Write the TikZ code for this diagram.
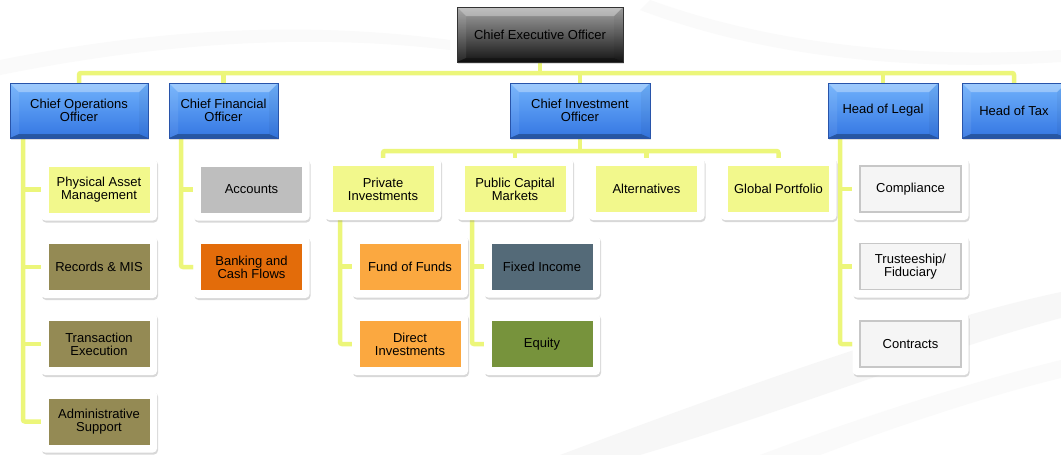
\documentclass[tikz,border=0pt]{standalone}
\usepackage{fontspec}
\setmainfont{Liberation Sans}
\usetikzlibrary{shadows,calc}
\pgfdeclarelayer{bg}
\pgfdeclarelayer{back}
\pgfsetlayers{bg,back,main}

\definecolor{link}{RGB}{236,246,122}
\definecolor{paleyel}{RGB}{242,248,140}
\definecolor{khaki}{RGB}{148,138,84}
\definecolor{acgray}{RGB}{190,190,190}
\definecolor{burnt}{RGB}{227,108,10}
\definecolor{apricot}{RGB}{251,168,64}
\definecolor{slate}{RGB}{84,106,120}
\definecolor{olivegreen}{RGB}{119,147,60}
\definecolor{bluetop}{RGB}{112,178,252}
\definecolor{bluebot}{RGB}{52,118,226}
\definecolor{blueedge}{RGB}{40,84,170}

% translucent bevel faces drawn over a shaded box
\newcommand\bevelfaces{%
  \fill[white,opacity=.32] (path picture bounding box.north west) -- (path picture bounding box.north east)
     -- ([shift={(-9pt,-9pt)}]path picture bounding box.north east) -- ([shift={(9pt,-9pt)}]path picture bounding box.north west) -- cycle;
  \fill[white,opacity=.08] (path picture bounding box.north west) -- ([shift={(9pt,-9pt)}]path picture bounding box.north west)
     -- ([shift={(9pt,4pt)}]path picture bounding box.south west) -- (path picture bounding box.south west) -- cycle;
  \fill[black,opacity=.04] (path picture bounding box.north east) -- ([shift={(-9pt,-9pt)}]path picture bounding box.north east)
     -- ([shift={(-9pt,4pt)}]path picture bounding box.south east) -- (path picture bounding box.south east) -- cycle;
  \fill[black,opacity=.28] (path picture bounding box.south west) -- (path picture bounding box.south east)
     -- ([shift={(-9pt,4pt)}]path picture bounding box.south east) -- ([shift={(9pt,4pt)}]path picture bounding box.south west) -- cycle;
}

\tikzset{
  base/.style={font=\fontsize{13}{13}\selectfont, align=center, inner sep=0pt, text=black},
  bluebox/.style={base, minimum height=55pt, top color=bluetop, bottom color=bluebot,
    draw=blueedge, line width=.4pt, path picture={\bevelfaces},
    drop shadow={shadow xshift=1pt, shadow yshift=-1.5pt, opacity=.25}},
  ceobox/.style={base, minimum height=55pt, top color=black!36, bottom color=black!92,
    draw=black!80, line width=.4pt, path picture={\bevelfaces},
    drop shadow={shadow xshift=1pt, shadow yshift=-1.5pt, opacity=.25}},
  frame/.style={fill=white, rounded corners=4pt, minimum width=116pt, minimum height=62pt,
    drop shadow={shadow xshift=1pt, shadow yshift=-2pt, opacity=.3}},
  face/.style={base, minimum width=101pt, minimum height=46pt, fill=#1},
  legalface/.style={base, minimum width=101pt, minimum height=46pt, fill=black!4,
    draw=black!22, line width=1.6pt},
  link/.style={draw=link, line width=4.5pt, rounded corners=2pt},
}

\begin{document}
\begin{tikzpicture}[x=1pt,y=-1pt]
\clip (0,0) rectangle (1061,455);

\begin{pgfonlayer}{bg}
  \fill[white] (0,0) rectangle (1061,455);
  % faint streaks in the background
  \fill[black!3] (560,455) .. controls (760,380) and (930,320) .. (1061,292)
     -- (1061,318) .. controls (940,350) and (790,410) .. (640,455) -- cycle;
  \fill[black!2] (760,455) .. controls (880,410) and (980,380) .. (1061,360)
     -- (1061,378) .. controls (990,395) and (900,425) .. (820,455) -- cycle;
  \fill[black!2] (0,60) .. controls (150,30) and (300,20) .. (450,40)
     -- (450,50) .. controls (300,32) and (150,45) .. (0,75) -- cycle;
  \fill[black!2] (650,0) .. controls (760,40) and (900,60) .. (1061,50)
     -- (1061,62) .. controls (900,72) and (760,55) .. (640,10) -- cycle;
\end{pgfonlayer}

% top level
\node[ceobox, minimum width=166pt] (ceo) at (540,34.5) {Chief Executive Officer};

\node[bluebox, minimum width=138pt] (coo)   at (79,110.5)   {Chief Operations\\Officer};
\node[bluebox, minimum width=109pt] (cfo)   at (223.5,110.5) {Chief Financial\\Officer};
\node[bluebox, minimum width=140pt] (cio)   at (580,110.5)  {Chief Investment\\Officer};
\node[bluebox, minimum width=110pt] (legal) at (883,110.5)  {Head of Legal};
\node[bluebox, minimum width=104pt] (tax)   at (1014,110.5) {Head of Tax};

% operations
\node[frame] (pam) at (99,189.5) {};
\node[face=paleyel] (pami) at (pam) {Physical Asset\\Management};
\node[frame] (rec) at (99,267) {};
\node[face=khaki] (reci) at (rec) {Records \& MIS};
\node[frame] (trx) at (99,344) {};
\node[face=khaki] (trxi) at (trx) {Transaction\\Execution};
\node[frame] (adm) at (99,421.5) {};
\node[face=khaki] (admi) at (adm) {Administrative\\Support};

% finance
\node[frame] (acc) at (251.5,189.5) {};
\node[face=acgray] (acci) at (acc) {Accounts};
\node[frame] (bank) at (251.5,267) {};
\node[face=burnt] (banki) at (bank) {Banking and\\Cash Flows};

% investment
\node[frame] (priv) at (383,189) {};
\node[face=paleyel] (privi) at (priv) {Private\\Investments};
\node[frame] (pub) at (515,189) {};
\node[face=paleyel] (pubi) at (pub) {Public Capital\\Markets};
\node[frame] (alt) at (646.5,189) {};
\node[face=paleyel] (alti) at (alt) {Alternatives};
\node[frame] (glob) at (778.5,189) {};
\node[face=paleyel] (globi) at (glob) {Global Portfolio};

\node[frame] (fof) at (410,266.5) {};
\node[face=apricot] (fofi) at (fof) {Fund of Funds};
\node[frame] (dir) at (410,344) {};
\node[face=apricot] (diri) at (dir) {Direct\\Investments};
\node[frame] (fix) at (542,266.5) {};
\node[face=slate] (fixi) at (fix) {Fixed Income};
\node[frame] (eq) at (542,344) {};
\node[face=olivegreen] (eqi) at (eq) {Equity};

% legal
\node[frame] (comp) at (910.5,189) {};
\node[legalface] (compi) at (comp) {Compliance};
\node[frame] (trust) at (910.5,266.5) {};
\node[legalface] (trusti) at (trust) {Trusteeship/\\Fiduciary};
\node[frame] (contr) at (910.5,344) {};
\node[legalface] (contri) at (contr) {Contracts};

% connectors
\begin{pgfonlayer}{back}
  \coordinate (topbar) at (540,73);
  \draw[link] (ceo.south) -- (ceo.south |- topbar);
  \draw[link] (coo.north) -- (coo.north |- topbar) -- (tax.north |- topbar) -- (tax.north);
  \draw[link] (cfo.north |- topbar) -- (cfo.north);
  \draw[link] (cio.north |- topbar) -- (cio.north);
  \draw[link] (legal.north |- topbar) -- (legal.north);

  % operations spine
  \coordinate (opsx) at (23,0);
  \draw[link] (opsx |- coo.south) -- (opsx |- adm.west) -- (adm.west);
  \draw[link] (opsx |- pam.west) -- (pam.west);
  \draw[link] (opsx |- rec.west) -- (rec.west);
  \draw[link] (opsx |- trx.west) -- (trx.west);

  % finance spine
  \coordinate (finx) at (181,0);
  \draw[link] (finx |- cfo.south) -- (finx |- bank.west) -- (bank.west);
  \draw[link] (finx |- acc.west) -- (acc.west);

  % investment bar
  \coordinate (invbar) at (580,151);
  \draw[link] (cio.south) -- (cio.south |- invbar);
  \draw[link] (priv.north) -- (priv.north |- invbar) -- (glob.north |- invbar) -- (glob.north);
  \draw[link] (pub.north |- invbar) -- (pub.north);
  \draw[link] (alt.north |- invbar) -- (alt.north);

  \coordinate (privx) at (340,0);
  \draw[link] (privx |- priv.south) -- (privx |- dir.west) -- (dir.west);
  \draw[link] (privx |- fof.west) -- (fof.west);
  \coordinate (pubx) at (472,0);
  \draw[link] (pubx |- pub.south) -- (pubx |- eq.west) -- (eq.west);
  \draw[link] (pubx |- fix.west) -- (fix.west);

  % legal spine
  \coordinate (legx) at (840,0);
  \draw[link] (legx |- legal.south) -- (legx |- contr.west) -- (contr.west);
  \draw[link] (legx |- comp.west) -- (comp.west);
  \draw[link] (legx |- trust.west) -- (trust.west);
\end{pgfonlayer}
\end{tikzpicture}
\end{document}
